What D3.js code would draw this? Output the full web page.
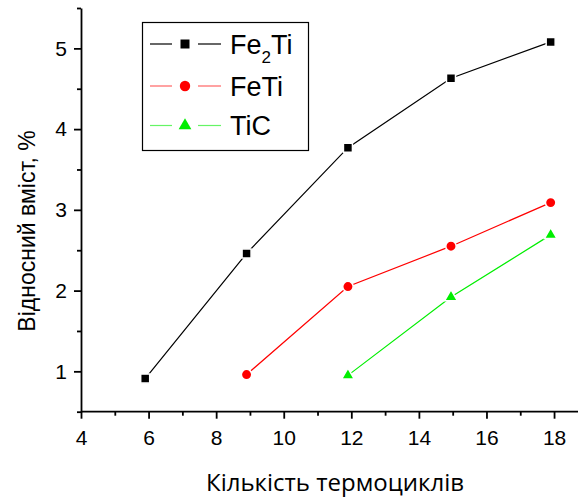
<!DOCTYPE html>
<meta charset="utf-8">
<style>
body { margin: 0; background: #fff; }
#chart text { font-family: "Liberation Sans", Arial, sans-serif; fill: #000; }
#chart .axis path, #chart .axis line { stroke: #000; stroke-width: 1.8; }
</style>
<svg id="chart" width="578" height="497"></svg>
<script src="https://d3js.org/d3.v7.min.js"></script>
<script>

var cycles = [5.9, 8.9, 11.9, 14.95, 17.9];
var fe2ti = [0.91, 2.46, 3.77, 4.63, 5.08];
var feti = [0.96, 2.05, 2.55, 3.09];
var tic = [0.95, 1.92, 2.69];
var xTicks = [4, 6, 8, 10, 12, 14, 16, 18];
var yTicks = [1, 2, 3, 4, 5];

var series = [
  {name: "Fe2Ti", color: "#000", shape: d3.symbolSquare, size: 81, x: cycles, y: fe2ti},
  {name: "FeTi", color: "#ff0000", shape: d3.symbolCircle, size: 85, x: cycles.slice(1), y: feti},
  {name: "TiC", color: "#00ee00", shape: d3.symbolTriangle, size: 70, x: cycles.slice(2), y: tic}
];

var svg = d3.select("#chart");

var x = d3.scaleLinear().domain([4, 18.7]).range([81, 577.7]);
var y = d3.scaleLinear().domain([0.5, 5.5]).range([411.7, 8]);

// minor ticks first
svg.append("g")
    .attr("class", "axis")
    .attr("transform", "translate(0," + y(0.5) + ")")
    .call(d3.axisBottom(x).tickValues([5, 7, 9, 11, 13, 15, 17]).tickSize(4).tickFormat(""))
    .select(".domain").remove();
svg.append("g")
    .attr("class", "axis")
    .attr("transform", "translate(" + x(4) + ",0)")
    .call(d3.axisLeft(y).tickValues([0.5, 1.5, 2.5, 3.5, 4.5, 5.5]).tickSize(4).tickFormat(""))
    .select(".domain").remove();

var xAxis = svg.append("g")
    .attr("class", "axis")
    .attr("transform", "translate(0," + y(0.5) + ")")
    .call(d3.axisBottom(x).tickValues(xTicks).tickFormat(d3.format("d")).tickSize(7).tickSizeOuter(0).tickPadding(11));
xAxis.select(".domain").attr("d", "M" + x(4) + ",0H578");

svg.append("g")
    .attr("class", "axis")
    .attr("transform", "translate(" + x(4) + ",0)")
    .call(d3.axisLeft(y).tickValues(yTicks).tickFormat(d3.format("d")).tickSize(7).tickSizeOuter(0).tickPadding(7));

svg.selectAll(".axis text")
    .attr("font-family", null)
    .style("font-family", "'Liberation Sans', Arial, sans-serif")
    .style("font-size", "21px");

// data
var line = d3.line();
series.forEach(function(s) {
  var pts = s.x.map(function(d, i) { return [x(d), y(s.y[i])]; });
  svg.append("path")
      .attr("d", line(pts))
      .attr("fill", "none")
      .attr("stroke", s.color)
      .attr("stroke-width", 1.2);
  svg.selectAll(null)
      .data(pts)
    .enter().append("path")
      .attr("transform", function(d) { return "translate(" + d[0] + "," + d[1] + ")"; })
      .attr("d", d3.symbol().type(s.shape).size(s.size))
      .attr("fill", s.color)
      .attr("stroke", "#fff")
      .attr("stroke-width", 1.5);
});

// legend
var legend = svg.append("g");
legend.append("rect")
    .attr("x", 142.5).attr("y", 22.5)
    .attr("width", 166).attr("height", 128)
    .attr("fill", "#fff").attr("stroke", "#000").attr("stroke-width", 1.2);
var rowY = [44, 86, 125.5];
series.forEach(function(s, i) {
  var g = legend.append("g").attr("transform", "translate(0," + rowY[i] + ")");
  g.append("line").attr("x1", 150).attr("x2", 172).attr("stroke", s.color).attr("stroke-width", 1.2).attr("opacity", i ? 0.6 : 1);
  g.append("line").attr("x1", 198).attr("x2", 221).attr("stroke", s.color).attr("stroke-width", 1.2).attr("opacity", i ? 0.6 : 1);
  g.append("path")
      .attr("transform", "translate(185,0)")
      .attr("d", d3.symbol().type(s.shape).size(s.size))
      .attr("fill", s.color);
  var t = g.append("text").attr("x", 230).attr("y", 9.5).style("font-size", "27px");
  if (s.name === "Fe2Ti") {
    t.append("tspan").text("Fe");
    t.append("tspan").attr("dy", 9).style("font-size", "17px").text("2");
    t.append("tspan").attr("dy", -9).text("Ti");
  } else {
    t.text(s.name);
  }
});

// axis titles
svg.append("text")
    .attr("x", 335).attr("y", 491)
    .attr("text-anchor", "middle")
    .style("font-family", "'Open Sans', sans-serif")
    .style("font-size", "24px")
    .text("Кількість термоциклів");

svg.append("text")
    .attr("transform", "translate(35,231) rotate(-90)")
    .attr("text-anchor", "middle")
    .style("font-size", "23px")
    .text("Відносний вміст, %");

</script>
